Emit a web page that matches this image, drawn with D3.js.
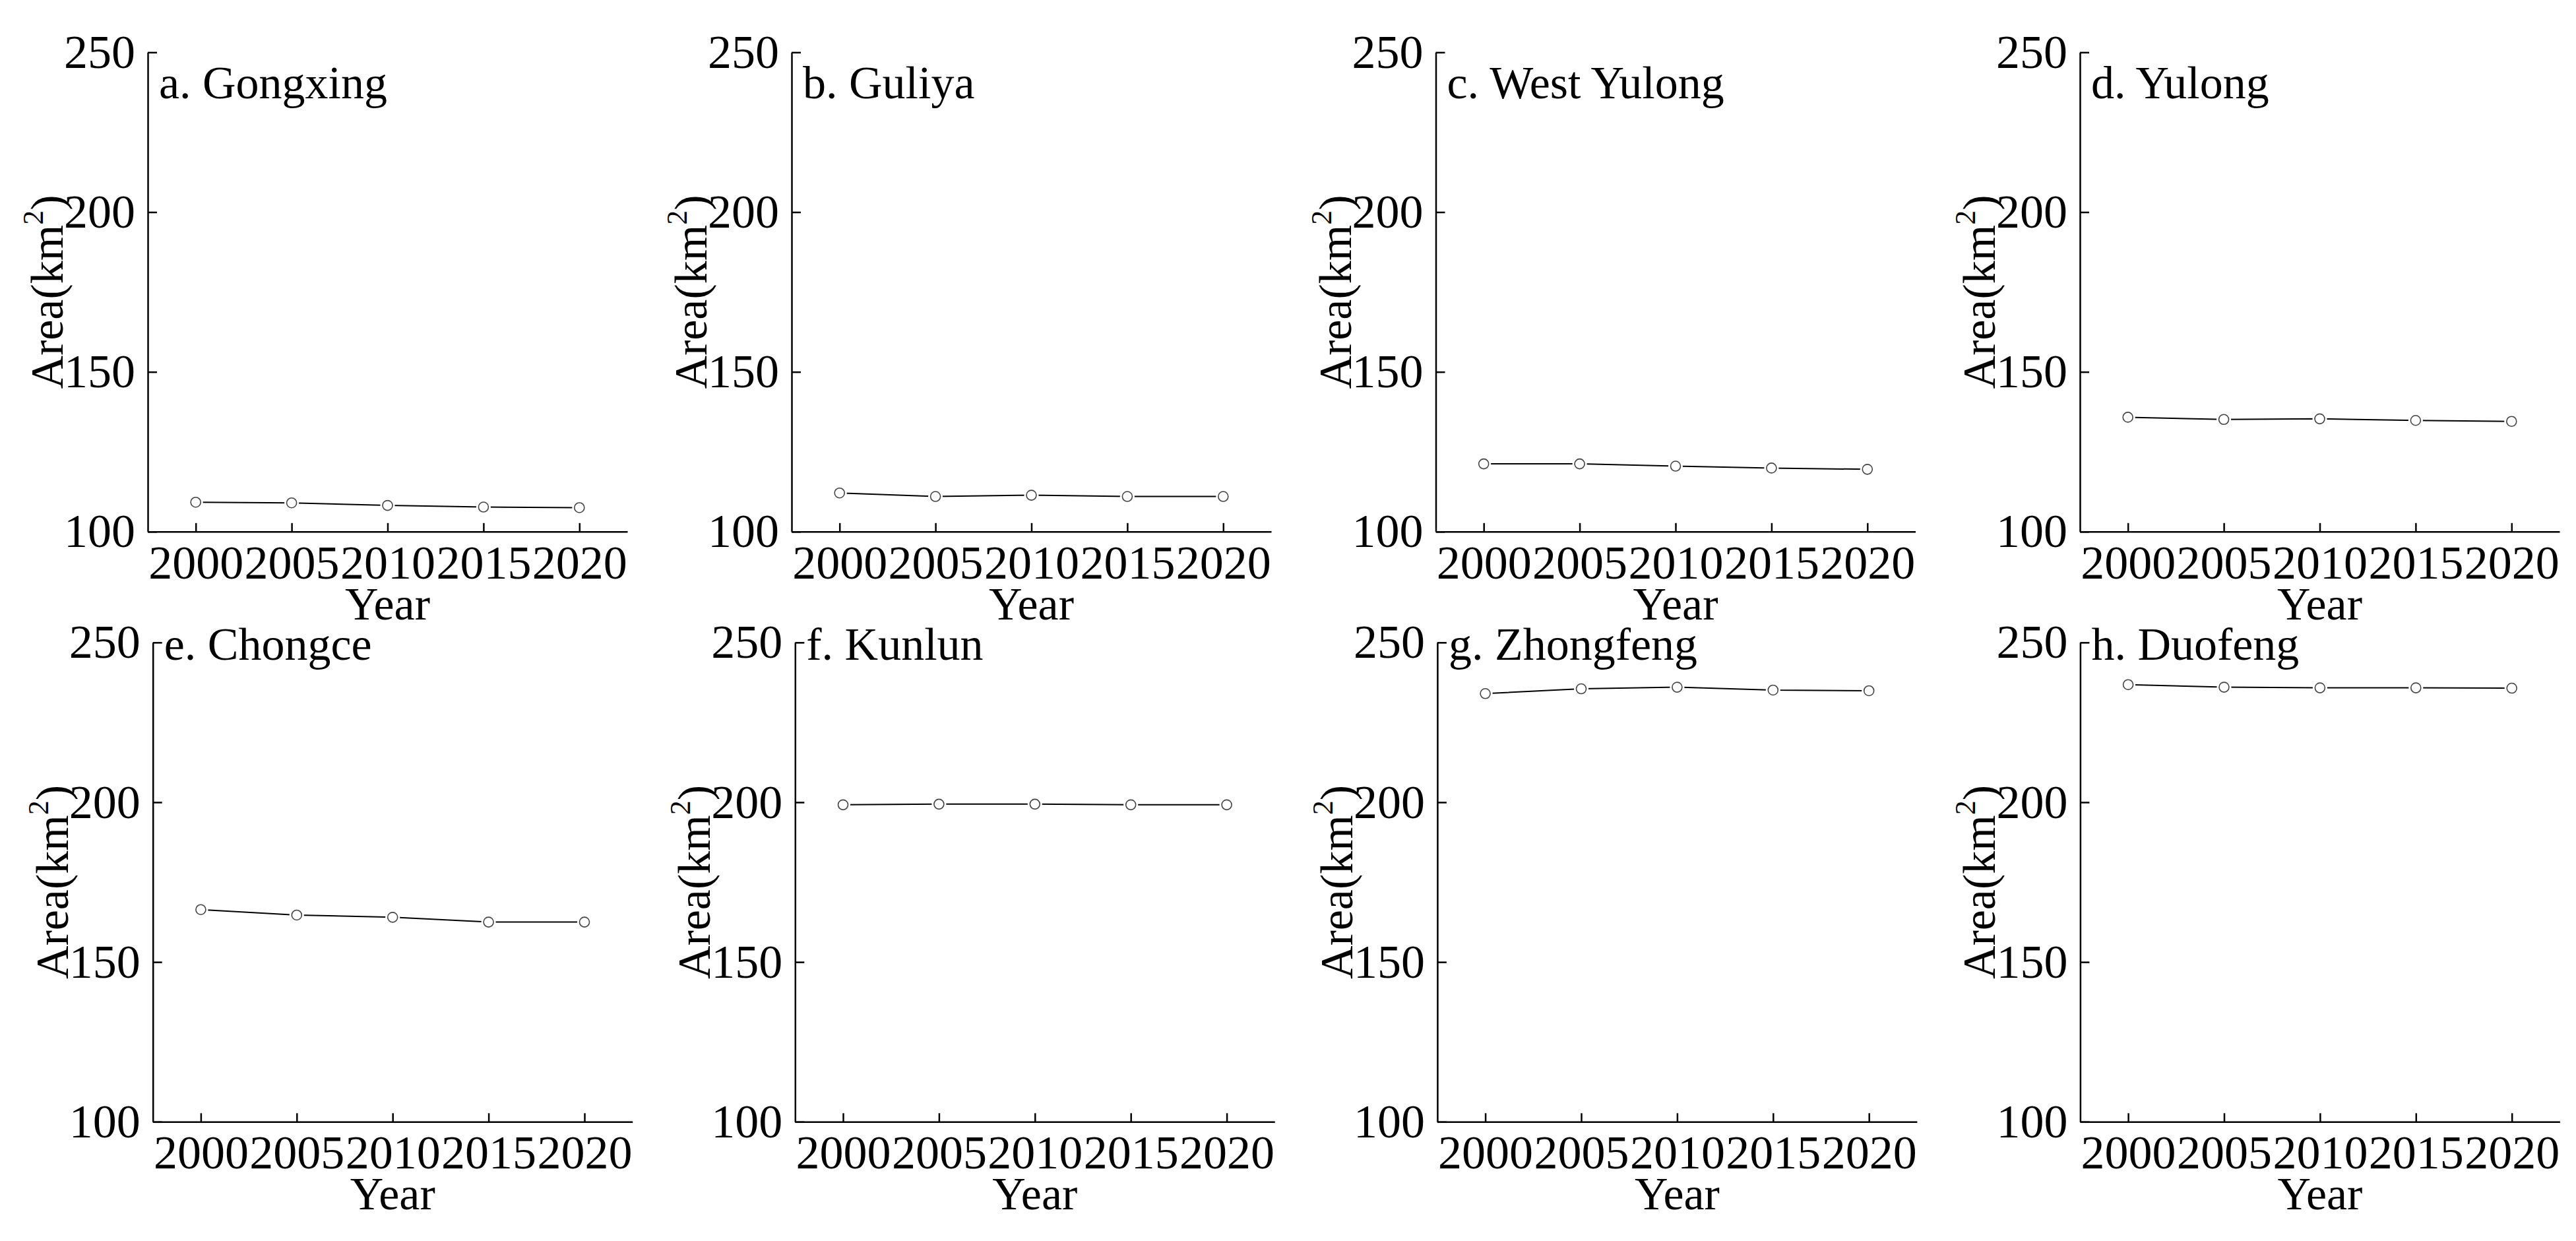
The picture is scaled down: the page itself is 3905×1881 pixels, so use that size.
<!DOCTYPE html>
<html>
<head>
<meta charset="utf-8">
<script src="https://cdn.jsdelivr.net/npm/d3@7"></script>
<style>
  body { margin: 0; background: #fff; }
  svg { display: block; }
  .axis path, .axis line { stroke: #000; stroke-width: 2.5; }
  .axis text { fill: #000; }
</style>
</head>
<body>
<svg id="chart"></svg>
<script>
// data
const years = [2000, 2005, 2010, 2015, 2020];
const yTicks = [100, 150, 200, 250];
const titles = ["a. Gongxing", "b. Guliya", "c. West Yulong", "d. Yulong",
                "e. Chongce", "f. Kunlun", "g. Zhongfeng", "h. Duofeng"];
const gongxing   = [109.2, 109.0, 108.2, 107.7, 107.5];
const guliya     = [112.1, 111.0, 111.4, 111.0, 111.0];
const westYulong = [121.2, 121.2, 120.5, 119.9, 119.5];
const yulong     = [135.8, 135.1, 135.3, 134.8, 134.5];
const chongce    = [166.4, 164.7, 164.0, 162.5, 162.5];
const kunlun     = [199.2, 199.4, 199.4, 199.2, 199.2];
const zhongfeng  = [234.0, 235.5, 236.0, 235.1, 234.9];
const duofeng    = [236.8, 236.0, 235.8, 235.8, 235.7];
const series = [gongxing, guliya, westYulong, yulong, chongce, kunlun, zhongfeng, duofeng];

// layout
const W = 3905, H = 1881;
const plotW = 727, plotH = 726.5;
const rows = [
    { top: 79.3, titleDy: 70, xs: [224, 1200, 2176.5, 3153] },
    { top: 973.8, titleDy: 26, xs: [231.7, 1205.3, 2178.9, 3153.4] }
];
const font = "'Liberation Serif', 'Times New Roman', serif";

const svg = d3.select("#chart").attr("width", W).attr("height", H);
svg.append("rect").attr("width", W).attr("height", H).attr("fill", "#fff");

const x = d3.scaleLinear().domain([1997.5, 2022.5]).range([0, plotW]);
const y = d3.scaleLinear().domain([100, 250]).range([plotH, 0]);

const xAxis = d3.axisBottom(x).tickValues(years).tickFormat(d3.format("d"))
    .tickSizeInner(-13).tickSizeOuter(0).tickPadding(20);
const yAxis = d3.axisLeft(y).tickValues(yTicks)
    .tickSizeInner(-14).tickSizeOuter(0).tickPadding(19);

const line = d3.line().x((d, i) => x(years[i])).y(d => y(d));

series.forEach(function(vals, k) {
    const row = rows[Math.floor(k / 4)];
    const g = svg.append("g")
        .attr("transform", "translate(" + row.xs[k % 4] + "," + row.top + ")");

    g.append("g").attr("class", "axis")
        .attr("transform", "translate(0," + plotH + ")")
        .call(xAxis)
        .attr("font-family", font).attr("font-size", 72);

    g.append("g").attr("class", "axis")
        .call(yAxis)
        .attr("font-family", font).attr("font-size", 72);

    g.append("path").datum(vals)
        .attr("fill", "none").attr("stroke", "#000").attr("stroke-width", 2)
        .attr("d", line);

    // white halo so the line stops short of each marker
    g.selectAll(".halo").data(vals).enter().append("circle")
        .attr("class", "halo")
        .attr("cx", (d, i) => x(years[i])).attr("cy", d => y(d))
        .attr("r", 11).attr("fill", "#fff");
    g.selectAll(".dot").data(vals).enter().append("circle")
        .attr("class", "dot")
        .attr("cx", (d, i) => x(years[i])).attr("cy", d => y(d))
        .attr("r", 7.5).attr("fill", "#fff")
        .attr("stroke", "#444").attr("stroke-width", 1.6);

    g.append("text")
        .attr("x", 17).attr("y", row.titleDy)
        .attr("font-family", font).attr("font-size", 70)
        .text(titles[k]);

    g.append("text")
        .attr("x", plotW / 2).attr("y", plotH + 133)
        .attr("text-anchor", "middle")
        .attr("font-family", font).attr("font-size", 70)
        .text("Year");

    const yl = g.append("text")
        .attr("transform", "translate(-129," + (plotH / 2) + ") rotate(-90)")
        .attr("text-anchor", "middle")
        .attr("font-family", font).attr("font-size", 70);
    yl.append("tspan").text("Area(km");
    yl.append("tspan").attr("font-size", 44).attr("dy", -30).text("2");
    yl.append("tspan").attr("dy", 30).text(")");
});
</script>
</body>
</html>
